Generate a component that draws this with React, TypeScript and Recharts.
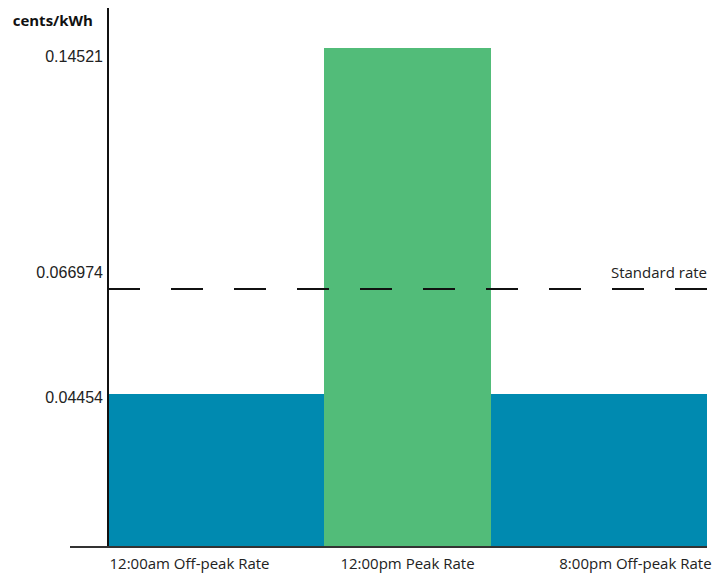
import React from 'react';
import { ComposedChart, Area, XAxis, YAxis, ReferenceLine } from 'recharts';

// Rate periods (widths are relative units)
const periodLabels = ['12:00am Off-peak Rate', '12:00pm Peak Rate', '8:00pm Off-peak Rate'];
const periodStarts = [0, 13, 23];
const periodEnds = [13, 23, 36];
const periodRates = [0.04454, 0.14521, 0.04454];
const periodColors = ['#008AB0', '#52BC79', '#008AB0'];
const xTickPositions = [4.9, 18, 31.7];

// Standard rate line (drawn position)
const standardRateLine = 0.075;
const standardRateLabel = 'Standard rate';

// Y axis tick positions and their printed labels
const yTickPositions = [0.0436, 0.0799, 0.1427];
const yTickLabels = ['0.04454', '0.066974', '0.14521'];
const yMax = 0.1567;
const yUnit = 'cents/kWh';

const boundaries = [0, 13, 23, 36];
const data = boundaries.map((x) => {
  const row: Record<string, number | null> = { x };
  periodRates.forEach((r, i) => {
    row['p' + i] = x >= periodStarts[i] && x <= periodEnds[i] ? r : null;
  });
  return row;
});

const XTick = (props: any) => {
  const { x, y, payload } = props;
  const i = xTickPositions.indexOf(payload.value);
  return (
    <text x={x} y={y + 22} textAnchor="middle" fontFamily="Open Sans" fontSize={15} fill="#222">
      {periodLabels[i]}
    </text>
  );
};

const YTick = (props: any) => {
  const { x, y, payload } = props;
  const i = yTickPositions.indexOf(payload.value);
  return (
    <text x={x + 41} y={y} dy="0.355em" textAnchor="end" fontFamily="Liberation Sans" fontSize={16} fill="#222">
      {yTickLabels[i]}
    </text>
  );
};

const StdLabel = (props: any) => {
  const vb = props.viewBox || {};
  return (
    <text x={vb.x + vb.width} y={vb.y - 11} textAnchor="end" fontFamily="Open Sans" fontSize={15} fill="#222">
      {standardRateLabel}
    </text>
  );
};

export default function App() {
  return (
    <div style={{ position: 'relative', width: 717, height: 565 }}>
      <div
        style={{
          position: 'absolute',
          left: 4.7,
          top: 2,
          fontFamily: 'Open Sans',
          fontWeight: 700,
          fontSize: 15,
          lineHeight: '20px',
          color: '#111',
        }}
      >
        {yUnit}
      </div>
      <ComposedChart
        width={717}
        height={565}
        data={data}
        margin={{ top: 0, right: 18, bottom: 0, left: 0 }}
        style={{ shapeRendering: 'crispEdges' }}
      >
        <XAxis
          type="number"
          dataKey="x"
          domain={[0, 36]}
          ticks={xTickPositions}
          interval={0}
          padding={{ left: 38, right: 0 }}
          tickLine={false}
          tickSize={0}
          tickMargin={0}
          height={26}
          axisLine={{ stroke: '#333', strokeWidth: 1.2 }}
          tick={<XTick />}
        />
        <YAxis
          type="number"
          domain={[0, yMax]}
          ticks={yTickPositions}
          interval={0}
          width={62}
          axisLine={false}
          tickLine={false}
          tick={<YTick />}
        />
        {periodRates.map((_, i) => (
          <Area
            key={i}
            type="linear"
            dataKey={'p' + i}
            stroke="none"
            fill={periodColors[i]}
            fillOpacity={1}
            connectNulls={false}
            dot={false}
            activeDot={false}
            isAnimationActive={false}
          />
        ))}
        <ReferenceLine x={0} stroke="#111" strokeWidth={1.5} />
        <ReferenceLine
          segment={[
            { x: 0, y: standardRateLine },
            { x: 36, y: standardRateLine },
          ]}
          stroke="#111"
          strokeWidth={2}
          strokeDasharray="31.5 31.5"
          label={<StdLabel />}
        />
      </ComposedChart>
    </div>
  );
}
